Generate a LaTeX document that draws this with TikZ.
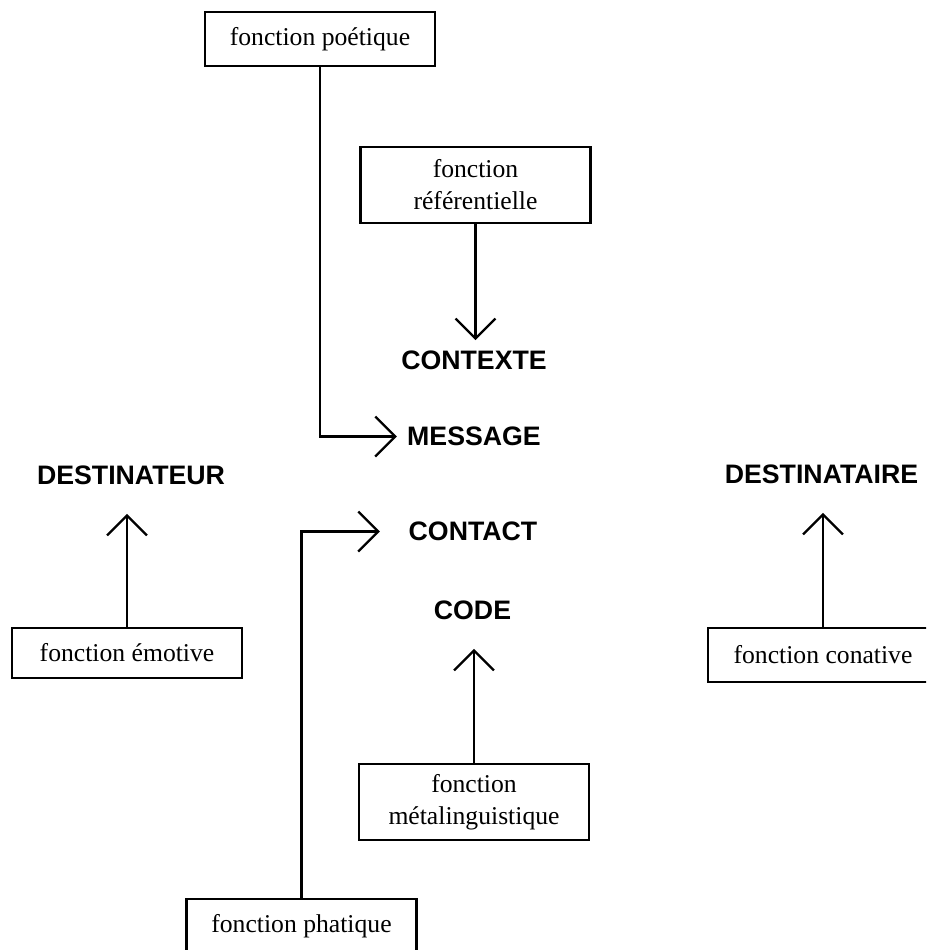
\documentclass[tikz,border=0pt]{standalone}
\usepackage{fontspec}
\setmainfont{Liberation Serif}
\setsansfont{Liberation Sans}
\usetikzlibrary{arrows.meta}
\tikzstyle{box} = [rectangle, draw, line width=1.3pt, text centered, align=center, minimum width=4.6cm, minimum height=1.08cm, font=\fontsize{14.6}{18.2}\selectfont]
\tikzstyle{pole} = [rectangle, inner sep=0.2cm, font=\sffamily\bfseries\fontsize{15.2}{17}\selectfont]
\tikzstyle{arrow} = [line width=1.3pt, -{Straight Barb[length=0.4cm, width=0.8cm]}]
\tikzstyle{gaparrow} = [arrow, shorten >=0.37cm]

\begin{document}
\begin{tikzpicture}
\clip (0,0) rectangle (18.52,-19);

\node (poetique) [box, xshift=6.40cm, yshift=-0.78cm] {fonction poétique};
\node (referentielle) [box, minimum height=1.52cm, xshift=9.51cm, yshift=-3.70cm] {fonction\\référentielle};
\node (contexte) [pole, xshift=9.48cm, yshift=-7.20cm] {CONTEXTE};
\node (message) [pole, xshift=9.48cm, yshift=-8.73cm] {MESSAGE};
\node (destinateur) [pole, xshift=2.62cm, yshift=-9.51cm] {DESTINATEUR};
\node (destinataire) [pole, xshift=16.43cm, yshift=-9.49cm] {DESTINATAIRE};
\node (contact) [pole, xshift=9.46cm, yshift=-10.63cm] {CONTACT};
\node (code) [pole, xshift=9.45cm, yshift=-12.21cm] {CODE};
\node (emotive) [box, minimum height=1.0cm, xshift=2.54cm, yshift=-13.06cm] {fonction émotive};
\node (conative) [box, xshift=16.46cm, yshift=-13.10cm] {fonction conative};
\node (metaling) [box, minimum height=1.52cm, xshift=9.48cm, yshift=-16.04cm] {fonction\\métalinguistique};
\node (phatique) [box, xshift=6.03cm, yshift=-18.52cm] {fonction phatique};

\draw [arrow] (poetique.south) |- (message.west);
\draw [arrow] (referentielle.south) -- (referentielle.south |- contexte.north);
\draw [gaparrow] (phatique.north) |- (contact.west);
\draw [gaparrow] (metaling.north) -- (metaling.north |- code.south);
\draw [gaparrow] (emotive.north) -- (emotive.north |- destinateur.south);
\draw [gaparrow] (conative.north) -- (conative.north |- destinataire.south);

\end{tikzpicture}
\end{document}
